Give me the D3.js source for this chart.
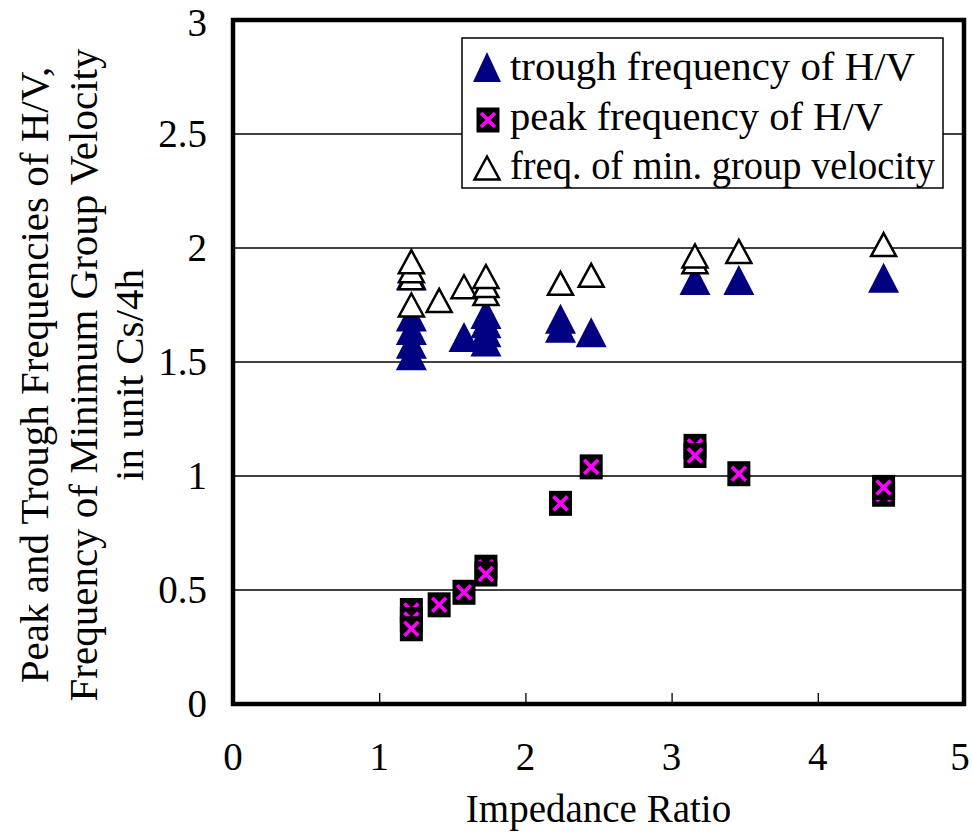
<!DOCTYPE html>
<html>
<head>
<meta charset="utf-8">
<script src="https://cdn.jsdelivr.net/npm/d3@7"></script>
<style>
  body { margin: 0; background: #fff; }
  text { font-family: "Liberation Serif", "Times New Roman", serif; fill: #000; }
</style>
</head>
<body>
<div id="chart"></div>
<script>
// values
const xTicks = [0, 1, 2, 3, 4, 5];
const yTicks = [0, 0.5, 1, 1.5, 2, 2.5, 3];
const yTickLabels = ["0", "0.5", "1", "1.5", "2", "2.5", "3"];

// trough frequency of H/V (filled triangles)
const troughX = [1.22, 1.22, 1.22, 1.22, 1.22, 1.58, 1.73, 1.73, 1.73, 1.73, 2.24, 2.24, 2.45, 3.16, 3.46, 4.45];
const troughY = [1.88, 1.70, 1.64, 1.58, 1.53, 1.61, 1.71, 1.67, 1.63, 1.59, 1.69, 1.65, 1.63, 1.86, 1.86, 1.87];

// peak frequency of H/V (black squares with magenta x)
const peakX = [1.22, 1.22, 1.22, 1.41, 1.58, 1.73, 1.73, 2.24, 2.45, 3.16, 3.16, 3.46, 4.45, 4.45];
const peakY = [0.41, 0.37, 0.33, 0.435, 0.49, 0.60, 0.57, 0.88, 1.04, 1.13, 1.09, 1.01, 0.92, 0.95];

// freq. of min. group velocity (open triangles)
const groupX = [1.22, 1.22, 1.22, 1.22, 1.41, 1.58, 1.73, 1.73, 1.73, 2.24, 2.45, 3.16, 3.16, 3.46, 4.45];
const groupY = [1.75, 1.87, 1.90, 1.94, 1.77, 1.83, 1.80, 1.835, 1.875, 1.845, 1.88, 1.94, 1.965, 1.985, 2.015];

const legendLabels = ["trough frequency of H/V", "peak frequency of H/V", "freq. of min. group velocity"];

const width = 972, height = 834;
const navy = "#000080", magenta = "#ff00ff";

const svg = d3.select("#chart").append("svg")
  .attr("width", width)
  .attr("height", height);

const x = d3.scaleLinear().domain([0, 5]).range([233, 964]);
const y = d3.scaleLinear().domain([0, 3]).range([704, 20]);

// grid lines
svg.append("g")
  .selectAll("line")
  .data(yTicks.slice(1, -1))
  .enter().append("line")
  .attr("x1", x(0)).attr("x2", x(5))
  .attr("y1", d => y(d)).attr("y2", d => y(d))
  .attr("stroke", "#000").attr("stroke-width", 1.3);

// x axis ticks (inside) and labels
svg.append("g")
  .attr("transform", "translate(0," + y(0) + ")")
  .call(d3.axisTop(x).tickValues(xTicks.slice(1, -1)).tickSize(11).tickFormat(""))
  .call(g => g.select(".domain").remove())
  .call(g => g.selectAll("line").attr("stroke-width", 1.3));

svg.append("g")
  .selectAll("text")
  .data(xTicks)
  .enter().append("text")
  .attr("x", d => Math.min(x(d), width - 12))
  .attr("y", 770)
  .attr("text-anchor", "middle")
  .style("font-size", "39px")
  .text(d => d);

svg.append("g")
  .selectAll("text")
  .data(yTicks)
  .enter().append("text")
  .attr("x", 207)
  .attr("y", d => Math.max(y(d) + 13, 36))
  .attr("text-anchor", "end")
  .style("font-size", "39px")
  .text((d, i) => yTickLabels[i]);

// frame
svg.append("rect")
  .attr("x", x(0)).attr("y", y(3))
  .attr("width", x(5) - x(0)).attr("height", y(0) - y(3))
  .attr("fill", "none").attr("stroke", "#000").attr("stroke-width", 4.5);

// axis titles
svg.append("text")
  .attr("x", (x(0) + x(5)) / 2)
  .attr("y", 822)
  .attr("text-anchor", "middle")
  .style("font-size", "39px")
  .text("Impedance Ratio");

const yTitle = ["Peak and Trough Frequencies of H/V,", "Frequency of Minimum Group Velocity", "in unit Cs/4h"];
const yTitleX = [48, 97, 143];
svg.append("g")
  .selectAll("text")
  .data(yTitle)
  .enter().append("text")
  .attr("transform", (d, i) => "translate(" + yTitleX[i] + ",375) rotate(-90)")
  .attr("text-anchor", "middle")
  .style("font-size", "41px")
  .text(d => d);

// marker shapes
const filledTri = "M0,-15 L15.5,15 L-15.5,15 Z";
const openTri = "M0,-11.5 L12.5,11.5 L-12.5,11.5 Z";

function drawPeak(g) {
  g.append("rect").attr("x", -11.5).attr("y", -12.5).attr("width", 23).attr("height", 25).attr("fill", "#000");
  g.append("path").attr("d", "M-7,-7 L7,7 M7,-7 L-7,7")
    .attr("stroke", magenta).attr("stroke-width", 3.6).attr("fill", "none");
}

// series
svg.append("g")
  .selectAll("path")
  .data(troughX)
  .enter().append("path")
  .attr("transform", (d, i) => "translate(" + x(d) + "," + y(troughY[i]) + ")")
  .attr("d", filledTri)
  .attr("fill", navy);

svg.append("g")
  .selectAll("g")
  .data(peakX)
  .enter().append("g")
  .attr("transform", (d, i) => "translate(" + x(d) + "," + y(peakY[i]) + ")")
  .each(function () { drawPeak(d3.select(this)); });

svg.append("g")
  .selectAll("path")
  .data(groupX)
  .enter().append("path")
  .attr("transform", (d, i) => "translate(" + x(d) + "," + y(groupY[i]) + ")")
  .attr("d", openTri)
  .attr("fill", "#fff")
  .attr("stroke", "#000")
  .attr("stroke-width", 2.5);

// legend
const legend = svg.append("g");
legend.append("rect")
  .attr("x", 462).attr("y", 38).attr("width", 481).attr("height", 150)
  .attr("fill", "#fff").attr("stroke", "#000").attr("stroke-width", 1.5);

const rowY = [67, 120, 168];
legend.append("path").attr("transform", "translate(487," + rowY[0] + ")")
  .attr("d", "M0,-15 L14,15 L-14,15 Z").attr("fill", navy);
drawPeak(legend.append("g").attr("transform", "translate(488," + rowY[1] + ")"));
legend.append("path").attr("transform", "translate(487," + rowY[2] + ")")
  .attr("d", openTri).attr("fill", "#fff").attr("stroke", "#000").attr("stroke-width", 2.5);

// widths of the legend lines in the reference
const legendWidths = [405, 373, 425];
legend.selectAll("text.lbl")
  .data(legendLabels)
  .enter().append("text")
  .attr("class", "lbl")
  .attr("x", 510)
  .attr("y", (d, i) => [80, 130, 179][i])
  .attr("textLength", (d, i) => legendWidths[i])
  .attr("lengthAdjust", "spacingAndGlyphs")
  .style("font-size", "40px")
  .text(d => d);
</script>
</body>
</html>
